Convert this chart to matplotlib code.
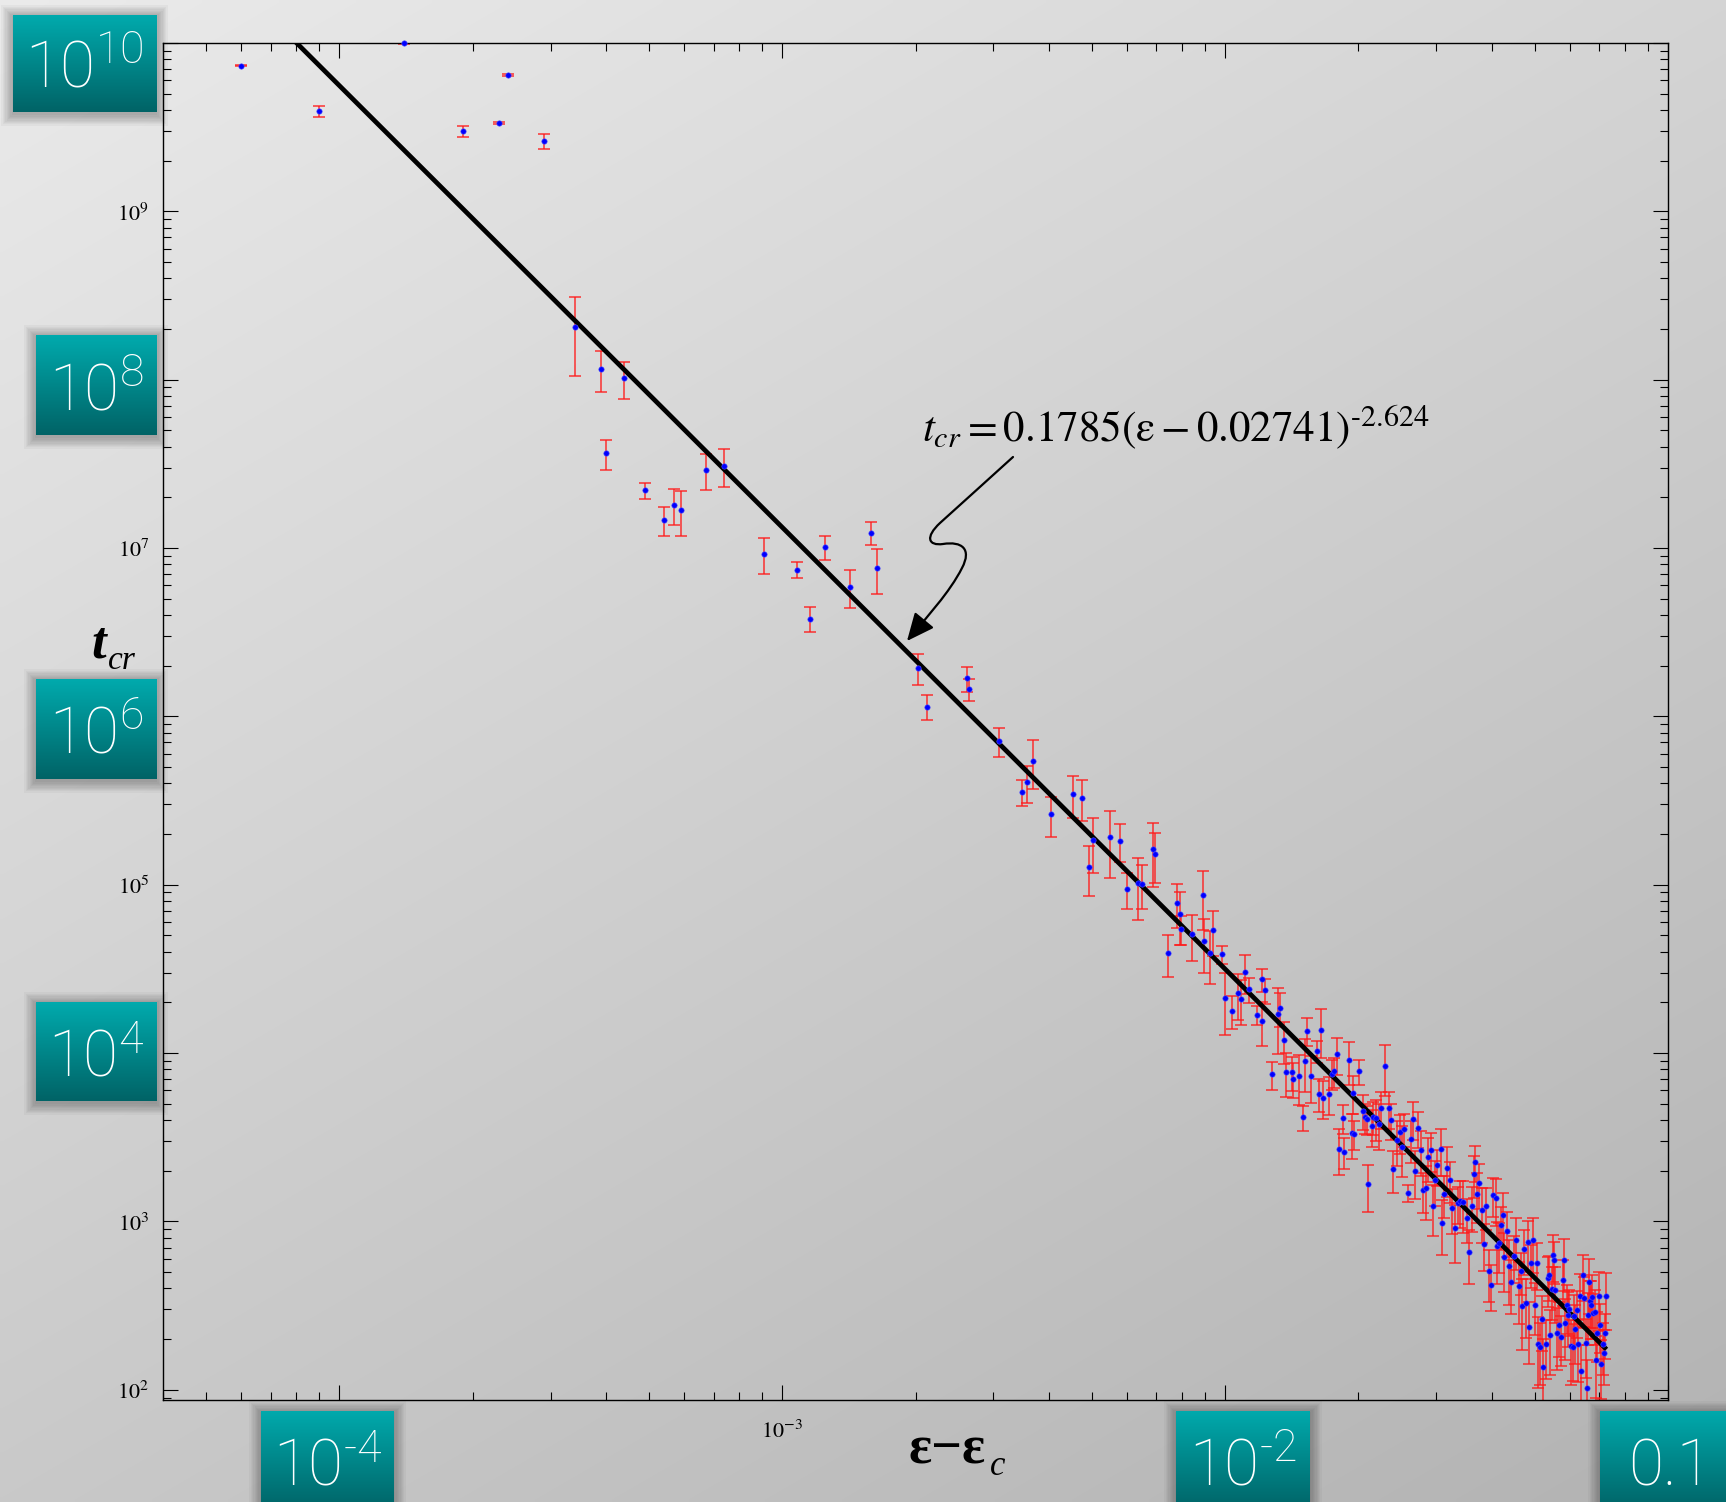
import numpy as np
import matplotlib
matplotlib.use("Agg")
import matplotlib.pyplot as plt
from matplotlib.patches import Rectangle, FancyArrowPatch, ArrowStyle
from matplotlib.path import Path
from matplotlib.ticker import FixedLocator, FixedFormatter, LogLocator, NullFormatter

plt.rcParams['mathtext.fontset'] = 'stix'

W, H = 1726, 1502

# eps - eps_c
eps = [6.0e-5, 9.0e-5, 1.40e-4, 1.90e-4, 2.30e-4, 2.40e-4, 2.90e-4,
       3.40e-4, 3.90e-4, 4.40e-4, 4.00e-4, 4.91e-4, 5.41e-4, 5.70e-4, 5.90e-4,
       6.74e-4, 7.40e-4, 9.11e-4, 1.08e-3, 1.157e-3, 1.25e-3, 1.42e-3, 1.59e-3,
       1.64e-3, 2.03e-3, 2.125e-3, 2.61e-3, 2.64e-3,
       3.09e-3, 3.48e-3, 3.57e-3, 3.69e-3, 4.05e-3, 4.54e-3, 4.75e-3, 4.92e-3,
       5.04e-3, 5.51e-3, 5.80e-3, 5.99e-3, 6.35e-3, 6.49e-3, 6.86e-3, 6.96e-3,
       7.45e-3, 7.80e-3, 7.90e-3, 7.95e-3, 8.41e-3, 8.90e-3, 8.97e-3, 9.25e-3,
       9.39e-3, 9.86e-3,
       1.00e-2, 1.035e-2, 1.07e-2, 1.085e-2, 1.108e-2, 1.13e-2, 1.18e-2, 1.21e-2,
       1.23e-2, 1.212e-2, 1.317e-2, 1.327e-2, 1.357e-2, 1.277e-2, 1.373e-2,
       1.415e-2, 1.425e-2, 1.472e-2, 1.518e-2, 1.529e-2, 1.566e-2, 1.616e-2,
       1.647e-2, 1.63e-2, 1.664e-2, 1.714e-2, 1.741e-2, 1.762e-2, 1.793e-2,
       1.908e-2, 1.948e-2, 2.003e-2, 2.30e-2, 2.246e-2, 2.346e-2,
       1.503e-2, 1.81e-2, 1.856e-2, 1.844e-2, 1.938e-2, 1.952e-2, 2.052e-2,
       2.07e-2, 2.089e-2, 2.104e-2, 2.148e-2, 2.163e-2, 2.189e-2, 2.227e-2,
       2.37e-2, 2.39e-2, 2.44e-2, 2.483e-2, 2.513e-2, 2.539e-2, 2.585e-2,
       2.63e-2, 2.66e-2, 2.68e-2, 2.727e-2, 2.774e-2, 2.803e-2, 2.838e-2,
       2.876e-2, 2.922e-2, 2.948e-2, 2.974e-2, 3.014e-2, 3.069e-2, 3.094e-2,
       3.121e-2, 3.164e-2, 3.22e-2, 3.26e-2, 3.31e-2, 3.36e-2, 3.40e-2,
       3.45e-2, 3.51e-2, 3.55e-2, 3.61e-2, 3.65e-2, 3.67e-2, 3.70e-2, 3.75e-2,
       3.80e-2, 3.84e-2, 3.88e-2, 3.95e-2, 3.99e-2, 4.03e-2, 4.08e-2, 4.12e-2,
       4.15e-2, 4.20e-2, 4.24e-2, 4.27e-2, 4.34e-2, 4.38e-2, 4.42e-2, 4.48e-2,
       4.53e-2, 4.61e-2, 4.65e-2, 4.68e-2, 4.72e-2, 4.77e-2, 4.82e-2, 4.86e-2,
       4.91e-2, 4.96e-2, 5.00e-2, 5.05e-2, 5.10e-2, 5.14e-2, 5.19e-2, 5.23e-2,
       5.30e-2, 5.35e-2, 5.40e-2, 5.41e-2, 5.46e-2, 5.49e-2, 5.53e-2, 5.57e-2,
       5.62e-2, 5.67e-2, 5.73e-2, 5.78e-2, 5.81e-2, 5.86e-2, 5.90e-2, 5.94e-2,
       5.99e-2, 6.04e-2, 6.10e-2, 6.14e-2, 6.18e-2, 6.22e-2, 6.27e-2, 6.33e-2,
       6.36e-2, 6.42e-2, 6.46e-2, 6.52e-2, 6.55e-2, 6.59e-2, 6.62e-2, 6.67e-2,
       6.71e-2, 6.75e-2, 6.78e-2, 6.83e-2, 6.88e-2, 6.92e-2, 6.98e-2, 7.02e-2,
       7.07e-2, 7.12e-2, 7.16e-2, 7.20e-2, 7.23e-2]

# crossover time
t_cr = [7.34e9, 3.92e9, 1.0e10, 3.0e9, 3.35e9, 6.47e9, 2.61e9,
        2.07e8, 1.16e8, 1.02e8, 3.65e7, 2.20e7, 1.47e7, 1.81e7, 1.69e7,
        2.90e7, 3.09e7, 9.25e6, 7.43e6, 3.80e6, 1.01e7, 5.91e6, 1.23e7,
        7.57e6, 1.94e6, 1.14e6, 1.68e6, 1.46e6,
        7.14e5, 3.56e5, 4.06e5, 5.46e5, 2.62e5, 3.44e5, 3.28e5, 1.28e5,
        1.84e5, 1.92e5, 1.83e5, 9.44e4, 1.03e5, 1.01e5, 1.64e5, 1.53e5,
        3.94e4, 7.80e4, 6.71e4, 5.46e4, 5.08e4, 8.70e4, 4.61e4, 3.94e4,
        5.36e4, 3.86e4,
        2.13e4, 1.79e4, 2.26e4, 2.09e4, 3.03e4, 2.40e4, 1.69e4, 2.74e4,
        2.37e4, 1.56e4, 1.71e4, 1.85e4, 1.19e4, 7.48e3, 7.73e3,
        7.73e3, 7.06e3, 7.32e3, 8.99e3, 1.36e4, 7.32e3, 1.025e4,
        1.38e4, 5.75e3, 5.44e3, 5.75e3, 7.55e3, 7.80e3, 9.89e3,
        9.06e3, 5.82e3, 7.80e3, 8.35e3, 4.73e3, 4.73e3,
        4.16e3, 2.71e3, 2.59e3, 4.12e3, 3.36e3, 3.31e3, 4.56e3,
        4.16e3, 4.07e3, 1.66e3, 3.68e3, 4.18e3, 4.12e3, 3.81e3,
        4.03e3, 2.05e3, 3.06e3, 3.39e3, 2.76e3, 3.55e3, 1.48e3,
        3.09e3, 4.08e3, 1.99e3, 3.58e3, 2.65e3, 1.53e3, 1.58e3,
        2.42e3, 2.65e3, 1.23e3, 1.76e3, 2.15e3, 2.71e3, 981,
        1.46e3, 2.08e3, 1.77e3, 1.20e3, 911, 1.29e3, 1.32e3,
        1.30e3, 1.05e3, 656, 1.24e3, 1.92e3, 2.25e3, 1.46e3, 1.69e3,
        1.17e3, 736, 1.23e3, 506, 422, 1.44e3, 1.37e3, 712,
        740, 948, 1.09e3, 617, 875, 547, 436, 627,
        778, 412, 511, 314, 688, 329, 752, 237,
        565, 773, 321, 568, 186, 179, 264, 136,
        188, 462, 479, 211, 398, 636, 591, 394,
        218, 244, 206, 452, 588, 248, 317, 280,
        300, 183, 179, 274, 230, 296, 186, 360,
        130, 484, 352, 190, 103, 280, 438, 339,
        321, 357, 287, 289, 150, 218, 363, 244,
        143, 186, 166, 218, 360]

# relative error bar size
rel_err = [0.01, 0.075, 0.01, 0.077, 0.01, 0.01, 0.10,
           0.49, 0.27, 0.25, 0.20, 0.11, 0.20, 0.24, 0.30,
           0.24, 0.25, 0.24, 0.105, 0.17, 0.16, 0.25, 0.155,
           0.30, 0.21, 0.17, 0.17, 0.15,
           0.20, 0.18, 0.25, 0.32, 0.27, 0.28, 0.27, 0.33,
           0.36, 0.43, 0.25, 0.24, 0.40, 0.29, 0.41, 0.33,
           0.28, 0.29, 0.35, 0.20, 0.31, 0.38, 0.35, 0.35,
           0.30, 0.12,
           0.40, 0.22, 0.30, 0.30, 0.26, 0.17, 0.13, 0.16,
           0.17, 0.29, 0.42, 0.23, 0.28, 0.19, 0.29,
           0.23, 0.23, 0.33, 0.35, 0.19, 0.31, 0.15,
           0.32, 0.22, 0.25, 0.25, 0.20, 0.20, 0.25,
           0.29, 0.25, 0.17, 0.33, 0.25, 0.25,
           0.17, 0.30, 0.21, 0.20, 0.30, 0.20, 0.23,
           0.20, 0.20, 0.31, 0.25, 0.22, 0.27, 0.30,
           0.24, 0.28, 0.30, 0.26, 0.33, 0.22, 0.12,
           0.28, 0.25, 0.32, 0.24, 0.30, 0.27, 0.35,
           0.29, 0.26, 0.33, 0.30, 0.24, 0.31, 0.36,
           0.28, 0.33, 0.27, 0.30, 0.38, 0.25, 0.31,
           0.34, 0.29, 0.35, 0.30, 0.28, 0.24, 0.33, 0.30,
           0.36, 0.31, 0.28, 0.34, 0.30, 0.26, 0.31, 0.40,
           0.33, 0.29, 0.36, 0.38, 0.30, 0.42, 0.35, 0.31,
           0.34, 0.40, 0.28, 0.45, 0.30, 0.38, 0.33, 0.40,
           0.29, 0.36, 0.34, 0.31, 0.45, 0.40, 0.36, 0.48,
           0.38, 0.33, 0.30, 0.42, 0.35, 0.31, 0.28, 0.37,
           0.40, 0.36, 0.33, 0.30, 0.34, 0.39, 0.32, 0.36,
           0.30, 0.42, 0.37, 0.33, 0.38, 0.31, 0.40, 0.35,
           0.42, 0.30, 0.33, 0.38, 0.45, 0.34, 0.36, 0.31,
           0.38, 0.35, 0.30, 0.36, 0.40, 0.33, 0.38, 0.32,
           0.38, 0.34, 0.36, 0.30, 0.37]

# power-law fit t_cr = A (eps - eps_c)^p
fit_amp = 0.1785
fit_pow = -2.624
fit_range = [7.0e-5, 0.072]

# decades hidden under the teal boxes get no tick label
x_ticks = [1e-4, 1e-3, 1e-2, 1e-1]
x_ticklabels = ['', r'$10^{-3}$', '', '']
y_ticks = [1e2, 1e3, 1e4, 1e5, 1e6, 1e7, 1e8, 1e9, 1e10]
y_ticklabels = [r'$10^{2}$', r'$10^{3}$', '', r'$10^{5}$', '', r'$10^{7}$', '',
                r'$10^{9}$', '']

# overlay boxes: (left, top, right, bottom) in pixels, label
boxes = [((13, 15, 156, 112), r'$\mathregular{10^{10}}$'),
         ((36, 335, 156, 435), r'$\mathregular{10^{8}}$'),
         ((36, 679, 156, 779), r'$\mathregular{10^{6}}$'),
         ((36, 1002, 156, 1101), r'$\mathregular{10^{4}}$'),
         ((261, 1411, 394, 1511), r'$\mathregular{10^{‐4}}$'),
         ((1176, 1411, 1310, 1511), r'$\mathregular{10^{‐2}}$'),
         ((1600, 1411, 1740, 1511), '0.1')]


def fx(px):
    return px / W


def fy(py):
    return 1 - py / H


fig = plt.figure(figsize=(W / 100, H / 100), dpi=100)

# grey gradient background
bg = fig.add_axes([0, 0, 1, 1], zorder=-10)
uu, vv = np.meshgrid(np.linspace(0, 1, 300), np.linspace(0, 1, 300))
shade = 0.92 - 0.22 * (0.6 * vv + 0.4 * uu)
bg.imshow(np.dstack([shade] * 3), extent=[0, 1, 0, 1], origin='upper',
          aspect='auto', interpolation='bilinear')
bg.axis('off')

ax = fig.add_axes([fx(163), fy(1400), (1668 - 163) / W, (1400 - 43) / H])
ax.set_facecolor('none')
ax.set_xscale('log')
ax.set_yscale('log')

yerr = np.array(t_cr) * np.array(rel_err)
ax.errorbar(eps, t_cr, yerr=yerr, fmt='none', ecolor='#ff1a1a', elinewidth=1.1,
            capsize=4.0, capthick=1.1, alpha=0.88, zorder=2)

xf = np.logspace(np.log10(fit_range[0]), np.log10(fit_range[1]), 60)
ax.plot(xf, fit_amp * xf ** fit_pow, color='black', lw=3.4, zorder=3)

ax.plot(eps, t_cr, 'o', color='#0000ff', ms=3.9, mew=0.4, mec='#5050ff',
        clip_on=False, zorder=4)

ax.set_xlim(4e-5, 0.1)
ax.set_ylim(87, 1e10)

ax.xaxis.set_major_locator(FixedLocator(x_ticks))
ax.xaxis.set_major_formatter(FixedFormatter(x_ticklabels))
ax.yaxis.set_major_locator(FixedLocator(y_ticks))
ax.yaxis.set_major_formatter(FixedFormatter(y_ticklabels))
for axis in [ax.xaxis, ax.yaxis]:
    axis.set_minor_locator(LogLocator(base=10, subs=np.arange(2, 10), numticks=50))
    axis.set_minor_formatter(NullFormatter())

ax.tick_params(which='both', direction='in', top=True, right=True, width=0.8)
ax.tick_params(which='major', length=10.5, labelsize=16)
ax.tick_params(which='minor', length=5.5)
ax.tick_params(axis='y', which='major', pad=10)
ax.tick_params(axis='x', which='major', pad=14)
for s in ax.spines.values():
    s.set_linewidth(1.0)

# fit annotation
fig.text(fx(922), fy(442),
         r'$t_{cr}= 0.1785(\mathrm{ε} - 0.02741)^{\mathrm{‐}2.624}$',
         fontsize=31, ha='left', va='baseline', zorder=6)

arrow_px = [(1013, 457), (990, 478), (962, 503), (940, 523),
            (925, 537), (928, 546), (943, 544),
            (962, 541), (972, 549), (962, 568),
            (950, 592), (926, 618), (907, 641)]
codes = [Path.MOVETO] + [Path.CURVE4] * 12
arrow = FancyArrowPatch(path=Path([(fx(a), fy(b)) for a, b in arrow_px], codes),
                        arrowstyle=ArrowStyle('-|>', head_length=1.0, head_width=0.45),
                        mutation_scale=17, lw=1.6, color='black',
                        transform=fig.transFigure, zorder=6)
fig.add_artist(arrow)

# axis labels
fig.text(fx(91), fy(658), 't', family='Liberation Serif', style='italic',
         weight='bold', fontsize=38, va='baseline')
fig.text(fx(108), fy(669), 'cr', family='Liberation Serif', style='italic',
         fontsize=24, va='baseline')
fig.text(fx(908), fy(1464), 'ε−ε', family='Liberation Serif', weight='bold',
         fontsize=39, va='baseline')
fig.text(fx(990), fy(1475), 'c', family='Liberation Serif', style='italic',
         fontsize=25, va='baseline')

# teal label boxes with soft shadows
top_c = np.array([0, 170, 173]) / 255
bot_c = np.array([0, 99, 102]) / 255
grad = np.linspace(0, 1, 100)[:, None, None]
grad_img = np.repeat(top_c + (bot_c - top_c) * grad, 2, axis=1)
for (x0, y0, x1, y1), label in boxes:
    for k in range(9):
        g = 1.3 * (k + 1)
        fig.add_artist(Rectangle((fx(x0 - g), fy(y1 + g + 2)), (x1 - x0 + 2 * g) / W,
                                 (y1 - y0 + 2 * g) / H, transform=fig.transFigure,
                                 color='black', alpha=0.03, lw=0, zorder=2))
    bax = fig.add_axes([fx(x0), fy(y1), (x1 - x0) / W, (y1 - y0) / H], zorder=3)
    bax.imshow(grad_img, extent=[0, 1, 0, 1], aspect='auto', origin='upper')
    bax.axis('off')
    bax.text(0.5, 0.25, label, ha='center', va='baseline', color='white',
             fontsize=46, family='Roboto', weight='light')

fig.savefig('out.png', dpi=100)
